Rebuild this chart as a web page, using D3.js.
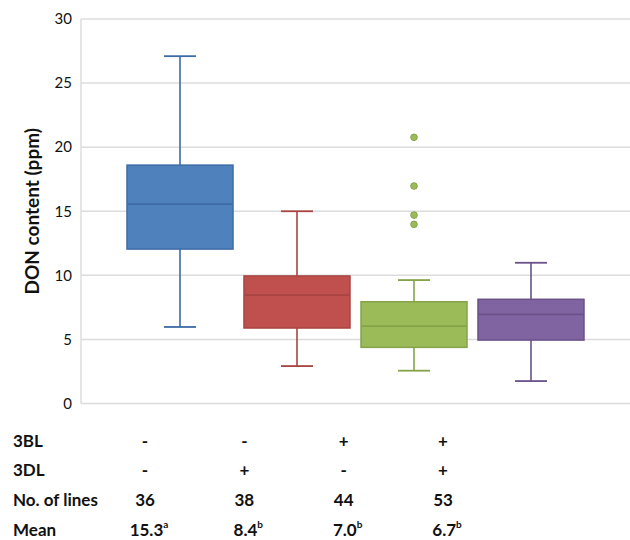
<!DOCTYPE html>
<html>
<head>
<meta charset="utf-8">
<script src="https://cdn.jsdelivr.net/npm/d3@7"></script>
<style>
  body { margin: 0; background: #fff; }
  svg { display: block; font-family: Lato, "Open Sans", sans-serif; }
</style>
</head>
<body>
<div id="chart"></div>
<script>
const groups = ["A", "B", "C", "D"];
const whiskerLow = [5.97, 2.92, 2.56, 1.75];
const quartile1 = [12.05, 5.89, 4.38, 4.95];
const medians = [15.56, 8.46, 6.04, 6.96];
const quartile3 = [18.6, 9.95, 7.94, 8.13];
const whiskerHigh = [27.1, 15.0, 9.63, 10.98];
const outliers = [[], [], [20.77, 16.97, 14.7, 13.98], []];
const fills = ["#4f81bd", "#c0504d", "#9bbb59", "#8064a2"];
const strokes = ["#3d6ba5", "#a84441", "#86a34a", "#6a5189"];

const yTicks = [0, 5, 10, 15, 20, 25, 30];
const rowLabels = ["3BL", "3DL", "No. of lines", "Mean"];
const row3BL = ["-", "-", "+", "+"];
const row3DL = ["-", "+", "-", "+"];
const rowLines = ["36", "38", "44", "53"];
const rowMean = ["15.3", "8.4", "7.0", "6.7"];
const rowMeanSup = ["a", "b", "b", "b"];

const width = 630, height = 540;
const plot = { left: 81, right: 630, top: 19, bottom: 403.5 };

const svg = d3.select("#chart").append("svg")
    .attr("width", width)
    .attr("height", height);

const y = d3.scaleLinear().domain([0, 30]).range([plot.bottom, plot.top]);
const x = d3.scaleBand().domain(groups)
    .range([121.5, 589.5])
    .paddingInner(0.094)
    .paddingOuter(0.047);
const colX = d3.scalePoint().domain(groups).range([145, 443]);

// gridlines
svg.append("g")
    .selectAll("line")
    .data(yTicks)
    .join("line")
    .attr("x1", plot.left)
    .attr("x2", plot.right)
    .attr("y1", d => y(d))
    .attr("y2", d => y(d))
    .attr("stroke", "#dcdcdc")
    .attr("stroke-width", 1.5);

svg.append("line")
    .attr("x1", plot.left).attr("x2", plot.left)
    .attr("y1", plot.top).attr("y2", plot.bottom)
    .attr("stroke", "#dcdcdc")
    .attr("stroke-width", 1.5);

// y axis labels
const yAxis = svg.append("g")
    .attr("transform", `translate(${plot.left},0)`)
    .call(d3.axisLeft(y).tickValues(yTicks).tickSize(0).tickPadding(9));
yAxis.select(".domain").remove();
yAxis.selectAll("text")
    .attr("font-family", "Lato, 'Open Sans', sans-serif")
    .attr("font-size", 15)
    .attr("fill", "#111");

svg.append("text")
    .attr("transform", `translate(39,${(plot.top + plot.bottom) / 2}) rotate(-90)`)
    .attr("text-anchor", "middle")
    .attr("font-size", 19)
    .attr("font-weight", "bold")
    .attr("fill", "#111")
    .text("DON content (ppm)");

// boxes
const capW = 32;
const boxes = svg.append("g")
    .selectAll("g")
    .data(groups)
    .join("g");

boxes.append("line")
    .attr("x1", d => x(d) + x.bandwidth() / 2)
    .attr("x2", d => x(d) + x.bandwidth() / 2)
    .attr("y1", (d, i) => y(whiskerHigh[i]))
    .attr("y2", (d, i) => y(whiskerLow[i]))
    .attr("stroke", (d, i) => strokes[i])
    .attr("stroke-width", 1.6);

boxes.selectAll(".cap")
    .data((d, i) => [whiskerLow[i], whiskerHigh[i]].map(v => ({ g: d, i, v })))
    .join("line")
    .attr("class", "cap")
    .attr("x1", d => x(d.g) + x.bandwidth() / 2 - capW / 2)
    .attr("x2", d => x(d.g) + x.bandwidth() / 2 + capW / 2)
    .attr("y1", d => y(d.v))
    .attr("y2", d => y(d.v))
    .attr("stroke", d => strokes[d.i])
    .attr("stroke-width", 1.8);

boxes.append("rect")
    .attr("x", d => x(d))
    .attr("width", x.bandwidth())
    .attr("y", (d, i) => y(quartile3[i]))
    .attr("height", (d, i) => y(quartile1[i]) - y(quartile3[i]))
    .attr("fill", (d, i) => fills[i])
    .attr("stroke", (d, i) => strokes[i])
    .attr("stroke-width", 1.5);

boxes.append("line")
    .attr("x1", d => x(d))
    .attr("x2", d => x(d) + x.bandwidth())
    .attr("y1", (d, i) => y(medians[i]))
    .attr("y2", (d, i) => y(medians[i]))
    .attr("stroke", (d, i) => strokes[i])
    .attr("stroke-width", 1.8);

boxes.selectAll(".outlier")
    .data((d, i) => outliers[i].map(v => ({ g: d, i, v })))
    .join("circle")
    .attr("class", "outlier")
    .attr("cx", d => x(d.g) + x.bandwidth() / 2)
    .attr("cy", d => y(d.v))
    .attr("r", 3.3)
    .attr("fill", d => fills[d.i])
    .attr("stroke", d => strokes[d.i])
    .attr("stroke-width", 1);

// table below
const rowY = [447, 476, 506, 536];
const table = svg.append("g")
    .attr("font-size", 17)
    .attr("font-weight", "bold")
    .attr("fill", "#111");

table.selectAll(".rowlabel")
    .data(rowLabels)
    .join("text")
    .attr("class", "rowlabel")
    .attr("x", 13)
    .attr("y", (d, i) => rowY[i])
    .text(d => d);

[row3BL, row3DL, rowLines].forEach((row, r) => {
    table.selectAll(`.r${r}`)
        .data(row)
        .join("text")
        .attr("class", `r${r}`)
        .attr("x", (d, i) => colX(groups[i]))
        .attr("y", rowY[r])
        .attr("text-anchor", "middle")
        .text(d => d);
});

const meanText = table.selectAll(".mean")
    .data(rowMean)
    .join("text")
    .attr("class", "mean")
    .attr("x", (d, i) => colX(groups[i]) + 4)
    .attr("y", rowY[3])
    .attr("text-anchor", "middle");
meanText.append("tspan").text(d => d);
meanText.append("tspan")
    .attr("dy", -8)
    .attr("font-size", 10)
    .text((d, i) => rowMeanSup[i]);
</script>
</body>
</html>
